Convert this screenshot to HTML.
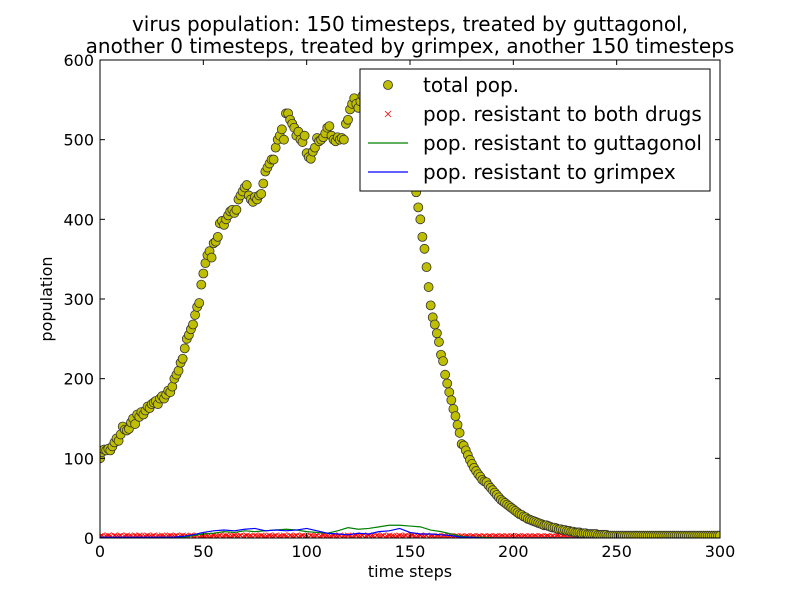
<!DOCTYPE html>
<html><head><meta charset="utf-8"><style>
body{margin:0;background:#fff;}
svg{display:block;font-family:"DejaVu Sans","Liberation Sans",sans-serif;}
</style></head><body>
<svg id="chart" width="800" height="597"></svg>
<script>
const total=[100,108,111,110,112,110,115,120,125,122,
130,140,136,135,137,145,150,143,155,152,
158,155,160,165,163,168,170,172,168,175,
178,175,180,185,183,190,200,205,210,220,
225,238,250,255,262,268,280,290,295,318,
332,345,355,360,352,370,372,378,395,398,
393,400,405,410,412,408,412,425,430,435,
440,443,430,425,422,428,425,430,432,445,
460,465,470,475,475,490,500,505,513,500,
533,533,525,520,515,505,510,500,497,505,
483,478,476,485,490,502,498,500,503,508,
515,517,505,500,498,503,500,502,500,520,
525,538,545,552,545,540,548,555,560,565,
570,568,575,572,578,575,570,568,572,565,
560,562,555,550,545,530,520,505,490,475,
462,450,440,434,415,400,378,363,340,315,
292,277,268,257,246,230,222,205,194,183,
173,162,153,142,132,118,116,110,104,98,
93,88,84,80,77,73,71,70,66,63,
60,57,54,51,48,46,44,42,40,38,
36,34,32,30,29,27,26,24,23,22,
21,20,19,18,17,16,16,15,14,13,
13,12,11,11,10,10,9,9,8,8,
7,7,7,6,6,6,5,5,5,5,
5,4,4,4,4,4,3,3,3,3,
3,3,3,3,3,3,3,3,3,3,3,3,3,3,3,3,3,3,3,3,3,3,3,3,3,
3,3,3,3,3,3,3,3,3,3,3,3,3,3,3,3,3,3,3,3,3,3,3,3,3,3];
const both=[2,3,1,2,3,2,1,3,2,2,3,1,2,3,2,2,1,3,2,3,2,1,2,3,2,2,3,1,2,2,
3,2,1,2,3,2,2,3,1,2,3,2,2,1,3,2,2,3,1,2,3,2,2,1,2,3,2,2,3,1,
2,3,2,1,2,3,2,2,3,1,2,3,2,2,1,3,2,2,3,2,1,2,3,2,2,3,1,2,2,3,
2,1,3,2,2,3,1,2,3,2,2,1,3,2,2,3,1,2,3,2,2,1,2,3,2,2,3,1,2,2,
3,2,1,2,3,2,2,3,1,2,3,2,2,1,3,2,2,3,1,2,3,2,2,1,2,3,2,2,3,1,
2,3,2,1,2,3,2,2,3,1,2,2,1,2,2,1,2,2,1,2,2,1,2,2,1,2,1,2,2,1,
2,2,1,2,2,1,2,1,2,2,1,2,2,1,2,2,1,2,1,2,2,1,2,2,1,2,2,1,2,1,
2,2,1,2,2,1,2,2,1,2,1,2,2,1,2,2,1,2,2,1,2,1,2,2,1,2,2,1,2,2,
1,2,1,2,2,1,2,2,1,2,2,1,2,1,2,2,1,2,2,1,2,2,1,2,1,2,2,1,2,2,
1,2,2,1,2,1,2,2,1,2,2,1,2,2,1,2,1,2,2,1,2];
const stepT=[0,5,10,15,20,25,30,35,40,45,50,55,60,65,70,75,80,85,90,95,100,105,110,115,120,125,130,135,140,145,150,155,160,165,170,175,180,185,190,195,200,205,210,215,220,225,230,235,240,245,250,255,260,265,270,275,280,285,290,295,300];
const gutta=[0,0,0,0,0,0,1,1,1,3,5,6,8,7,9,8,9,10,11,10,8,7,6,9,13,11,12,14,16,16,15,14,10,8,5,2,1,1,0,0,0,0,0,0,0,0,0,0,0,0,0,0,0,0,0,0,0,0,0,0,0];
const grimp=[1,1,1,1,1,1,1,1,2,4,7,9,10,9,11,12,9,10,9,10,12,9,6,5,4,6,5,8,9,12,7,5,5,4,3,1,1,0,0,0,0,0,0,0,0,0,0,0,0,0,0,0,0,0,0,0,0,0,0,0,0];
const xTicks=[0,50,100,150,200,250,300];
const yTicks=[0,100,200,300,400,500,600];

const NS="http://www.w3.org/2000/svg";
const svg=document.getElementById('chart');
const L=100,R=720,T=60,B=538;
const sx=t=>L+(t/300)*(R-L);
const sy=v=>B-(v/600)*(B-T);
function mk(tag,attrs,parent){const e=document.createElementNS(NS,tag);for(const k in attrs)e.setAttribute(k,attrs[k]);(parent||svg).appendChild(e);return e;}

const t1=mk('text',{x:410,y:31,'text-anchor':'middle','font-size':20});
t1.textContent='virus population: 150 timesteps, treated by guttagonol,';


const t2=mk('text',{x:410,y:53,'text-anchor':'middle','font-size':20});
t2.textContent='another 0 timesteps, treated by grimpex, another 150 timesteps';



const clip=mk('clipPath',{id:'pc'});mk('rect',{x:L,y:T,width:R-L,height:B-T},clip);
const g=mk('g',{'clip-path':'url(#pc)'});



both.forEach((v,i)=>{const x=sx(i),y=sy(v);
const p=mk('path',{d:`M${x-3},${y-3}L${x+3},${y+3}M${x-3},${y+3}L${x+3},${y-3}`,stroke:'#ff0000','stroke-width':0.8},g);

});
const gl=mk('polyline',{points:stepT.map((t,i)=>sx(t)+','+sy(gutta[i])).join(' '),fill:'none',stroke:'#008000','stroke-width':1.2},g);


const bl=mk('polyline',{points:stepT.map((t,i)=>sx(t)+','+sy(grimp[i])).join(' '),fill:'none',stroke:'#0000ff','stroke-width':1.2},g);


total.forEach((v,i)=>{const c=mk('circle',{cx:sx(i),cy:sy(v),r:4.5,fill:'#bfbf00',stroke:'#333','stroke-width':0.8},g);

});

const fr=mk('rect',{x:L,y:T,width:R-L,height:B-T,fill:'none',stroke:'#000','stroke-width':1});


xTicks.forEach(t=>{const x=sx(t);
mk('line',{x1:x,x2:x,y1:B,y2:B-5,stroke:'#000'});mk('line',{x1:x,x2:x,y1:T,y2:T+5,stroke:'#000'});
const tx=mk('text',{x:x,y:B+19,'text-anchor':'middle','font-size':16});tx.textContent=t;

});
yTicks.forEach(v=>{const y=sy(v);
mk('line',{x1:L,x2:L+5,y1:y,y2:y,stroke:'#000'});mk('line',{x1:R,x2:R-5,y1:y,y2:y,stroke:'#000'});
const tx=mk('text',{x:L-6,y:y+6,'text-anchor':'end','font-size':16});tx.textContent=v;

});
const xl=mk('text',{x:410,y:577,'text-anchor':'middle','font-size':16});xl.textContent='time steps';


const yl=mk('text',{x:52,y:299,'text-anchor':'middle','font-size':16,transform:'rotate(-90 52 299)'});yl.textContent='population';



const lg=mk('g',{});


mk('rect',{x:360,y:69,width:350,height:122,fill:'#fff',stroke:'#000','stroke-width':1},lg);
const labels=['total pop.','pop. resistant to both drugs','pop. resistant to guttagonol','pop. resistant to grimpex'];
labels.forEach((s,i)=>{const y=85+i*29;
if(i===0){mk('circle',{cx:388,cy:y,r:4.5,fill:'#bfbf00',stroke:'#333','stroke-width':0.8},lg);}
else if(i===1){mk('path',{d:`M385,${y-3}L391,${y+3}M385,${y+3}L391,${y-3}`,stroke:'#ff0000','stroke-width':0.8},lg);}
else{mk('line',{x1:368,x2:408,y1:y,y2:y,stroke:i===2?'#008000':'#0000ff','stroke-width':1.2},lg);}
const tx=mk('text',{x:423,y:y+7,'font-size':20},lg);tx.textContent=s;

});
</script>
</body></html>
